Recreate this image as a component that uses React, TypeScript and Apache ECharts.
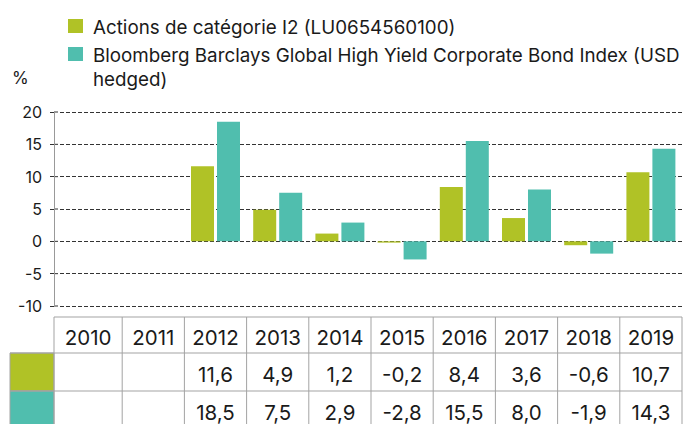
import React, { useEffect, useRef } from "react";
import * as echarts from "echarts";

const years = ["2010", "2011", "2012", "2013", "2014", "2015", "2016", "2017", "2018", "2019"];
const seriesNames = [
  "Actions de catégorie I2 (LU0654560100)",
  "Bloomberg Barclays Global High Yield Corporate Bond Index (USD hedged)",
];
const legendLabels = [
  "Actions de catégorie I2 (LU0654560100)",
  "Bloomberg Barclays Global High Yield Corporate Bond Index (USD\nhedged)",
];
const fundValues: (number | null)[] = [null, null, 11.6, 4.9, 1.2, -0.2, 8.4, 3.6, -0.6, 10.7];
const indexValues: (number | null)[] = [null, null, 18.5, 7.5, 2.9, -2.8, 15.5, 8.0, -1.9, 14.3];
const yTicks = [-10, -5, 0, 5, 10, 15, 20];
const colors = ["#B0C226", "#50BEAE"];
const unitLabel = "%";

const FONT = "Inter, 'Liberation Sans', sans-serif";
const TEXT = "#1a1a1a";
const GRID_COLOR = "#333333";
const TABLE_LINE = "#a3a3a3";

const fmt = (v: number | null) => (v == null ? "" : v.toFixed(1).replace(".", ","));

export default function App() {
  const ref = useRef<HTMLDivElement>(null);
  useEffect(() => {
    if (!ref.current) return;
    const chart = echarts.init(ref.current, null, { renderer: "svg" });
    const gridLeft = 60;
    const axisX = 54;
    chart.setOption({
      animation: false,
      grid: { left: gridLeft, right: 4, top: 112, bottom: 118, containLabel: false },
      xAxis: {
        type: "category",
        data: years,
        axisLine: { show: false },
        axisTick: { show: false },
        axisLabel: { show: false },
        splitLine: { show: false },
      },
      yAxis: {
        type: "value",
        min: yTicks[0],
        max: yTicks[yTicks.length - 1],
        interval: 5,
        offset: gridLeft - axisX,
        axisLine: { show: true, lineStyle: { color: "#999999", width: 1 } },
        axisTick: { show: true, length: 4, lineStyle: { color: GRID_COLOR } },
        axisLabel: { fontSize: 16, color: TEXT, fontFamily: FONT, margin: 12 },
        splitLine: { show: true, lineStyle: { color: GRID_COLOR, type: [4, 2], width: 1 } },
      },
      series: [
        {
          name: seriesNames[0],
          type: "bar",
          data: fundValues,
          barWidth: 23,
          barGap: "13%",
          itemStyle: { color: colors[0] },
        },
        {
          name: seriesNames[1],
          type: "bar",
          data: indexValues,
          barWidth: 23,
          barGap: "13%",
          itemStyle: { color: colors[1] },
        },
      ],
    });

    const g: any[] = [];
    // legend
    const legendTop = [19, 47];
    legendLabels.forEach((lab, i) => {
      g.push({
        type: "rect",
        shape: { x: 68, y: legendTop[i], width: 15, height: 14 },
        style: { fill: colors[i] },
      });
      g.push({
        type: "text",
        x: 93,
        y: legendTop[i] - 4,
        style: {
          text: lab,
          fontSize: 18.8,
          lineHeight: 24,
          fontFamily: FONT,
          fill: TEXT,
          verticalAlign: "top",
        },
      });
    });
    g.push({
      type: "text",
      x: 12,
      y: 78,
      style: { text: unitLabel, fontSize: 17, fontFamily: FONT, fill: TEXT, verticalAlign: "middle" },
    });

    // gridline extension between axis line and plot
    yTicks.forEach((t) => {
      const py = chart.convertToPixel({ yAxisIndex: 0 }, t) as number;
      g.push({
        type: "line",
        shape: { x1: axisX, y1: py, x2: gridLeft, y2: py },
        style: { stroke: GRID_COLOR, lineWidth: 1, lineDash: [4, 2] },
      });
    });

    // table
    const centers = years.map((_, i) => chart.convertToPixel({ xAxisIndex: 0 }, i) as number);
    const half = (centers[1] - centers[0]) / 2;
    const edges = [axisX, ...centers.map((c) => c + half)];
    const right = edges[edges.length - 1];
    const rowTop = 317;
    const rows = [rowTop, 353, 391, 429];
    const colorLeft = 10;
    g.push({ type: "rect", shape: { x: colorLeft, y: rows[1], width: axisX - colorLeft, height: rows[2] - rows[1] }, style: { fill: colors[0], stroke: TABLE_LINE, lineWidth: 1 } });
    g.push({ type: "rect", shape: { x: colorLeft, y: rows[2], width: axisX - colorLeft, height: rows[3] - rows[2] }, style: { fill: colors[1], stroke: TABLE_LINE, lineWidth: 1 } });
    rows.forEach((ry, i) => {
      g.push({
        type: "line",
        shape: { x1: i === 0 ? axisX : colorLeft, y1: ry, x2: right, y2: ry },
        style: { stroke: TABLE_LINE, lineWidth: 1 },
      });
    });
    edges.forEach((ex) => {
      g.push({
        type: "line",
        shape: { x1: ex, y1: rowTop, x2: ex, y2: rows[3] },
        style: { stroke: TABLE_LINE, lineWidth: 1 },
      });
    });
    const cellCenters = edges.slice(0, -1).map((e, i) => (e + edges[i + 1]) / 2);
    const rowText = [337, 374.5, 412];
    years.forEach((yr, i) => {
      const cx = i === 0 ? cellCenters[0] : centers[i];
      g.push({ type: "text", x: cx, y: rowText[0], style: { text: yr, fontSize: 20.5, fontFamily: FONT, fill: TEXT, align: "center", verticalAlign: "middle" } });
      g.push({ type: "text", x: cx, y: rowText[1], style: { text: fmt(fundValues[i]), fontSize: 20.5, fontFamily: FONT, fill: TEXT, align: "center", verticalAlign: "middle" } });
      g.push({ type: "text", x: cx, y: rowText[2], style: { text: fmt(indexValues[i]), fontSize: 20.5, fontFamily: FONT, fill: TEXT, align: "center", verticalAlign: "middle" } });
    });

    chart.setOption({ graphic: g });
    return () => chart.dispose();
  }, []);
  return <div ref={ref} style={{ width: 686, height: 424, position: "fixed", left: 0, top: 0, background: "#fff" }} />;
}
